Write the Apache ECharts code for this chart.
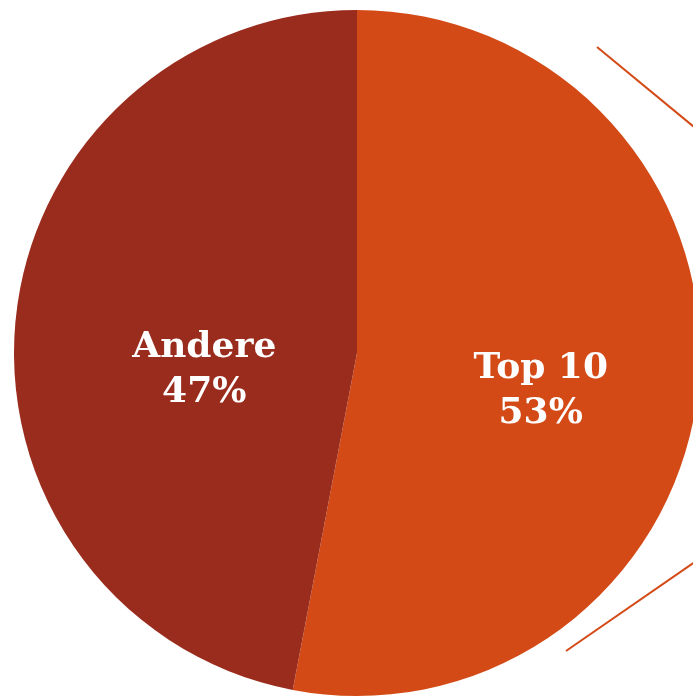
<!DOCTYPE html>
<html>
<head>
<meta charset="utf-8">
<script src="https://cdn.jsdelivr.net/npm/echarts@6/dist/echarts.min.js"></script>
<style>
  html, body { margin: 0; padding: 0; background: #fff; }
  #chart { width: 693px; height: 696px; }
</style>
</head>
<body>
<div id="chart"></div>
<script>
// Anteil Top 10 vs. Andere
const categories = ['Top 10', 'Andere'];
const values = [53, 47];
const colors = ['#d34a17', '#9a2c1e'];

// Label-Verschiebung gegenüber 'inside'
const labelShift = [[10, 22], [21, 34]];

const chart = echarts.init(document.getElementById('chart'));
chart.setOption({
  animation: false,
  backgroundColor: '#fff',
  series: [{
    type: 'pie',
    center: [357, 353],
    radius: [0, 343],
    startAngle: 90,
    clockwise: true,
    silent: true,
    label: {
      show: true,
      position: 'inside',
      color: '#fff',
      fontFamily: 'DejaVu Serif',
      fontWeight: 'bold',
      fontSize: 36,
      lineHeight: 45,
      formatter: p => p.name + '\n' + p.value + '%',
    },
    labelLine: { show: false },
    labelLayout: p => ({ dx: labelShift[p.dataIndex][0], dy: labelShift[p.dataIndex][1] }),
    itemStyle: { borderWidth: 0 },
    data: categories.map((c, i) => ({
      name: c,
      value: values[i],
      itemStyle: { color: colors[i] },
    })),
  }],
  graphic: [
    { type: 'line', shape: { x1: 597, y1: 47, x2: 705, y2: 136 }, style: { stroke: '#d34a17', lineWidth: 2 } },
    { type: 'line', shape: { x1: 566, y1: 651, x2: 705, y2: 555 }, style: { stroke: '#d34a17', lineWidth: 2 } },
  ],
});
</script>
</body>
</html>
